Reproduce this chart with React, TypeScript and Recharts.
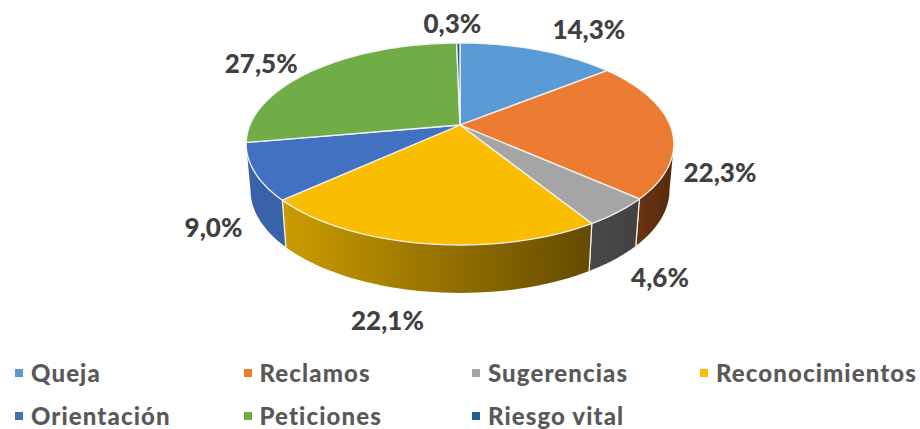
import { Legend, Pie, PieChart } from "recharts"

const CATEGORIES = ["Queja", "Reclamos", "Sugerencias", "Reconocimientos", "Orientación", "Peticiones", "Riesgo vital"]
const SHARES = [14.3, 22.3, 4.6, 22.1, 9.0, 27.5, 0.3]
const TOP_COLORS = ["#5B9BD5", "#EB7C32", "#A5A5A5", "#FBBD00", "#4371C2", "#70AD47", "#255E91"]
const WALL_COLORS = [
  ["#375D80", "#375D80"],
  ["#6A3514", "#562A0F"],
  ["#484848", "#424242"],
  ["#CC9C00", "#634A00"],
  ["#3A62A8", "#3A62A8"],
  ["#43682B", "#43682B"],
  ["#163857", "#163857"],
]
// label offsets from the middle of each slice's rim, in px
const LABEL_OFFSETS = [
  [51, -21],
  [49, 44],
  [42, 65],
  [-37, 76],
  [-41, 55],
  [-54, -7],
  [-6, -20],
]

const chartData = CATEGORIES.map((name, i) => ({ name, value: SHARES[i], fill: TOP_COLORS[i] }))

const FONT = "Lato, 'Open Sans', sans-serif"
const TILT = 0.188 // perspective of the disc
const Y_SCALE = 0.464
const DEPTH_Y = 45.5
const LOWER_X = 0.98
const LOWER_Y = 1.02
const TANGENT = (Math.asin(TILT) * 180) / Math.PI

const rim = (cx: number, cy: number, r: number, deg: number) => {
  const a = (deg * Math.PI) / 180
  const u = Math.cos(a)
  const v = -Math.sin(a)
  const w = 1 - TILT * v
  return { x: cx + (r * u) / w, y: cy + (r * Y_SCALE * v) / w }
}

const lowerRim = (cx: number, cy: number, r: number, deg: number) => {
  const p = rim(cx, cy, r, deg)
  return { x: cx + (p.x - cx) * LOWER_X, y: cy + DEPTH_Y + (p.y - cy) * LOWER_Y }
}

const sweep = (from: number, to: number) => {
  const steps = Math.max(2, Math.ceil(Math.abs(from - to) / 2))
  const out = []
  for (let i = 0; i <= steps; i++) out.push(from + ((to - from) * i) / steps)
  return out
}

const toPath = (pts: { x: number; y: number }[]) =>
  pts.map((p, i) => `${i ? "L" : "M"}${p.x.toFixed(2)} ${p.y.toFixed(2)}`).join(" ")

const Slice3D = (props: any) => {
  const { cx, cy, outerRadius, startAngle, endAngle, fill, name } = props
  const i = CATEGORIES.indexOf(name)
  const rimTop = sweep(startAngle, endAngle).map((d) => rim(cx, cy, outerRadius, d))
  const top = `M${cx} ${cy} ` + toPath(rimTop).replace("M", "L") + " Z"
  const wallFrom = Math.min(startAngle, -TANGENT)
  const wallTo = Math.max(endAngle, -180 + TANGENT)
  const hasWall = wallFrom > wallTo
  let wall = ""
  const seams: string[] = []
  if (hasWall) {
    const upper = sweep(wallFrom, wallTo).map((d) => rim(cx, cy, outerRadius, d))
    const lower = sweep(wallTo, wallFrom).map((d) => lowerRim(cx, cy, outerRadius, d))
    wall = toPath(upper) + " " + toPath(lower).replace("M", "L") + " Z"
    for (const d of [wallFrom, wallTo]) {
      if (d !== -TANGENT && d !== -180 + TANGENT) {
        seams.push(toPath([rim(cx, cy, outerRadius, d), lowerRim(cx, cy, outerRadius, d)]))
      }
    }
  }
  return (
    <g>
      <defs>
        <linearGradient id={`wall-${i}`} x1="0" y1="0" x2="1" y2="0">
          <stop offset="0" stopColor={WALL_COLORS[i][0]} />
          <stop offset="1" stopColor={WALL_COLORS[i][1]} />
        </linearGradient>
      </defs>
      {hasWall && <path d={wall} fill={`url(#wall-${i})`} />}
      {seams.map((d) => (
        <path key={d} d={d} stroke="#F0F0F0" strokeWidth={1.2} fill="none" />
      ))}
      <path d={top} fill={fill} stroke="#F2F2F2" strokeWidth={1.3} strokeLinejoin="round" />
    </g>
  )
}

const renderLabel = (props: any) => {
  const { cx, cy, outerRadius, midAngle, index, value } = props
  const p = rim(cx, cy, outerRadius, midAngle)
  return (
    <text
      x={p.x + LABEL_OFFSETS[index][0]}
      y={p.y + LABEL_OFFSETS[index][1]}
      textAnchor="middle"
      dominantBaseline="central"
      fontFamily={FONT}
      fontWeight={900}
      fontSize={26}
      fill="#404040"
    >
      {value.toFixed(1).replace(".", ",")}%
    </text>
  )
}

const renderLegend = () => (
  <div style={{ display: "grid", gridTemplateColumns: "228.5px 228.5px 228px 220px", rowGap: 15, paddingLeft: 15, fontFamily: FONT }}>
    {CATEGORIES.map((name, i) => (
      <div key={name} style={{ display: "flex", alignItems: "center", height: 28 }}>
        <span style={{ width: 8, height: 8, background: TOP_COLORS[i], marginRight: 8, flex: "none" }} />
        <span style={{ fontSize: 24, lineHeight: "24px", fontWeight: 900, letterSpacing: 1.1, color: "#595959", whiteSpace: "nowrap" }}>{name}</span>
      </div>
    ))}
  </div>
)

export default function App() {
  return (
    <div style={{ position: "absolute", left: 0, top: 0, width: 920, height: 429, overflow: "hidden", background: "#fff" }}>
      <PieChart width={920} height={429} margin={{ top: 0, right: 0, bottom: 0, left: 0 }}>
        <Pie
          data={chartData}
          dataKey="value"
          nameKey="name"
          cx={460}
          cy={125}
          outerRadius={210}
          startAngle={90}
          endAngle={-270}
          paddingAngle={0}
          shape={Slice3D}
          activeShape={Slice3D}
          inactiveShape={Slice3D}
          label={renderLabel}
          labelLine={false}
          isAnimationActive={false}
        />
        <Legend content={renderLegend} wrapperStyle={{ left: 0, top: 359, width: 920 }} />
      </PieChart>
    </div>
  )
}
